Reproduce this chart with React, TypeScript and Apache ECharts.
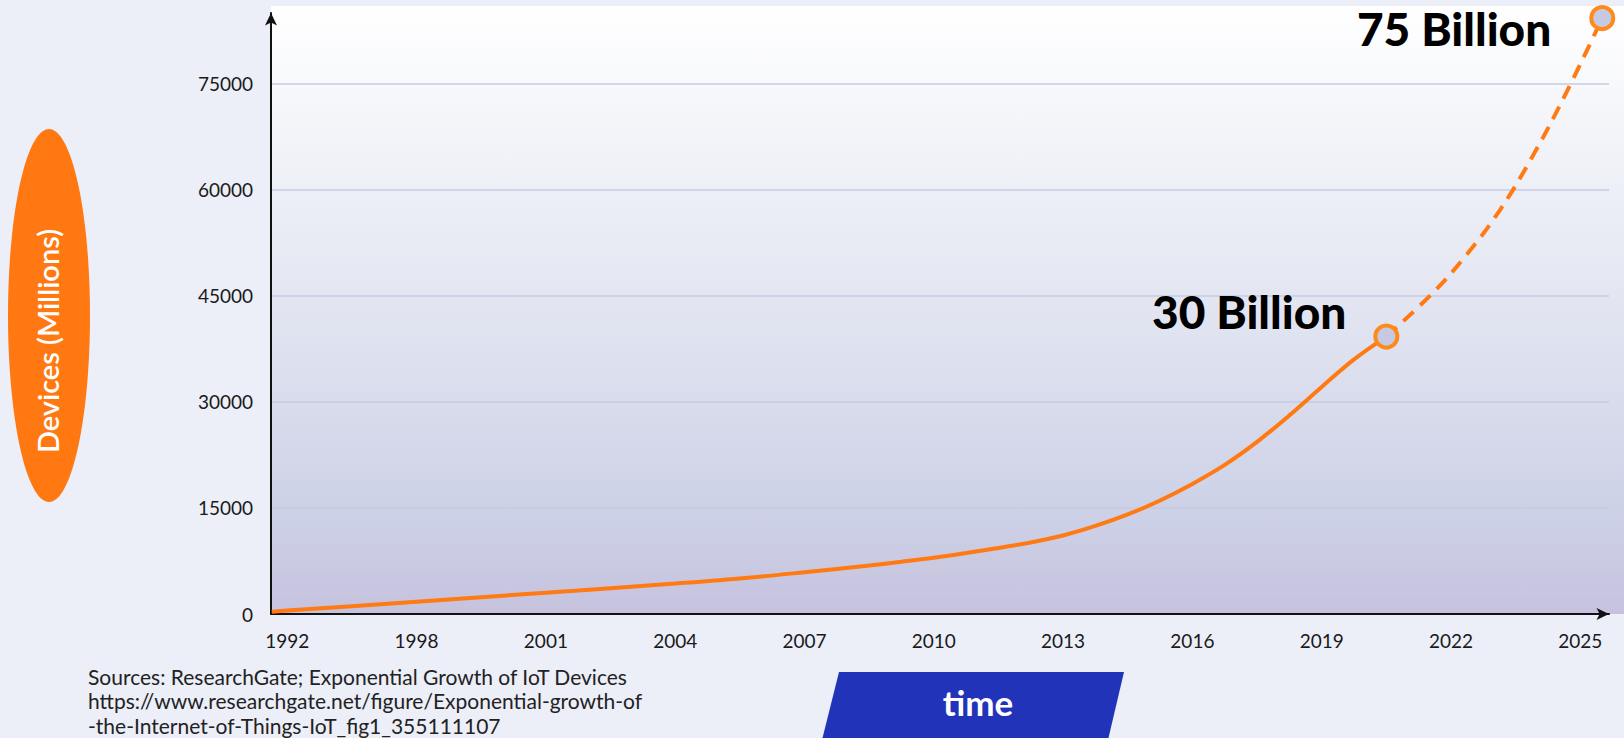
import React, { useEffect, useRef } from "react";
import * as echarts from "echarts";

// ---- data ----
const yearLabels = ["1992", "1998", "2001", "2004", "2007", "2010", "2013", "2016", "2019", "2022", "2025"];
// timeline position (0 = first year label, one step per label) / devices in millions
const actualPos = [-0.12, 0, 1, 2, 3, 3.5, 4, 4.5, 4.75, 5, 5.25, 5.5, 5.75, 6, 6.25, 6.5, 6.75, 7, 7.25, 7.5, 7.75, 8, 8.25, 8.5];
const actualVal = [325, 480, 1740, 3010, 4300, 5020, 5910, 6860, 7390, 7960, 8620, 9340, 10120, 11110, 12450, 14080, 16060, 18400, 21090, 24340, 28090, 32120, 36010, 39240];
const forecastPos = [8.5, 8.86, 9.12, 9.38, 9.63, 9.89, 10.17];
const forecastVal = [39240, 45420, 50800, 57170, 64710, 73680, 84290];
const milestoneLabels = ["30 Billion", "75 Billion"];
const milestonePos = [8.5, 10.17];
const milestoneVal = [39240, 84290];
const yAxisTitle = "Devices (Millions)";
const xAxisTitle = "time";
const sourceLines = [
  "Sources: ResearchGate; Exponential Growth of IoT Devices",
  "https://www.researchgate.net/figure/Exponential-growth-of",
  "-the-Internet-of-Things-IoT_fig1_355111107",
];

const FONT = "Lato, 'Noto Sans', sans-serif";
const ORANGE = "#ff7a12";

export default function App() {
  const ref = useRef<HTMLDivElement>(null);

  useEffect(() => {
    if (!ref.current) return;
    const chart = echarts.init(ref.current, null, { renderer: "svg" });

    const pair = (xs: number[], ys: number[]) => xs.map((x, i) => [x, ys[i]]);

    const option: any = {
      animation: false,
      backgroundColor: "#eceef8",
      grid: { left: 271, right: 15, top: 13, bottom: 124, containLabel: false },
      xAxis: {
        type: "value",
        min: -0.126,
        max: 10.222,
        axisLine: {
          show: true,
          onZero: false,
          lineStyle: { color: "#111", width: 2 },
          symbol: ["none", "arrow"],
          symbolSize: [9, 12.5],
        },
        axisTick: { show: false, customValues: yearLabels.map((_, i) => i) },
        axisLabel: {
          customValues: yearLabels.map((_, i) => i),
          formatter: (v: number) => yearLabels[Math.round(v)] ?? "",
          color: "#1a1a1a",
          fontFamily: FONT,
          fontSize: 19,
          lineHeight: 19,
          margin: 17,
        },
        splitLine: { show: false },
      },
      yAxis: {
        type: "value",
        min: 0,
        max: 85000,
        interval: 15000,
        axisLine: {
          show: true,
          onZero: false,
          lineStyle: { color: "#111", width: 2 },
          symbol: ["none", "arrow"],
          symbolSize: [9, 12.5],
        },
        axisTick: { show: false },
        axisLabel: {
          showMaxLabel: false,
          formatter: (v: number) => String(v),
          color: "#1a1a1a",
          fontFamily: FONT,
          fontSize: 19,
          margin: 18,
        },
        splitLine: {
          show: true,
          showMinLine: false,
          showMaxLine: false,
          lineStyle: { color: "#c6cbe5", width: 1.5 },
        },
      },
      graphic: [
        {
          type: "rect",
          z: -10,
          silent: true,
          shape: { x: 271, y: 6, width: 1353, height: 608 },
          style: {
            fill: new echarts.graphic.LinearGradient(0, 0, 0, 1, [
              { offset: 0, color: "#ffffff" },
              { offset: 0.5, color: "#e2e5f1" },
              { offset: 0.85, color: "#ccd0e6" },
              { offset: 1, color: "#c6c2de" },
            ]),
          },
        },
        {
          type: "ellipse",
          shape: { cx: 49, cy: 315.5, rx: 41, ry: 186.5 },
          style: { fill: "#ff7811" },
        },
        {
          type: "text",
          x: 47,
          y: 341,
          rotation: Math.PI / 2,
          style: {
            text: yAxisTitle,
            fill: "#ffffff",
            font: `600 29px ${FONT}`,
            align: "center",
            verticalAlign: "middle",
          },
        },
        {
          type: "text",
          x: 88,
          y: 664,
          style: {
            text: sourceLines.join("\n"),
            fill: "#222222",
            font: `21px ${FONT}`,
            lineHeight: 24.5,
            align: "left",
            verticalAlign: "top",
          },
        },
        {
          type: "polygon",
          shape: { points: [[839, 672], [1124, 672], [1108, 740], [822, 740]] },
          style: { fill: "#2133b8" },
        },
        {
          type: "text",
          x: 978,
          y: 702,
          style: {
            text: xAxisTitle,
            fill: "#ffffff",
            font: `700 35px ${FONT}`,
            align: "center",
            verticalAlign: "middle",
          },
        },
      ],
      series: [
        {
          type: "line",
          data: pair(actualPos, actualVal),
          smooth: 0.35,
          showSymbol: false,
          symbol: "none",
          clip: false,
          lineStyle: { color: ORANGE, width: 4 },
          z: 3,
        },
        {
          type: "line",
          data: pair(forecastPos, forecastVal),
          smooth: 0.4,
          showSymbol: false,
          symbol: "none",
          clip: false,
          lineStyle: { color: ORANGE, width: 4, type: [14, 9] },
          z: 3,
        },
        {
          type: "scatter",
          data: milestonePos.map((x, i) => ({
            value: [x, milestoneVal[i]],
            label: {
              show: true,
              formatter: milestoneLabels[i],
              position: "left",
              distance: 5,
              offset: i === 0 ? [-22, -25] : [-33, 10],
              color: "#000000",
              fontFamily: FONT,
              fontWeight: 900,
              fontSize: 46,
            },
          })),
          symbol: "circle",
          symbolSize: 22,
          clip: false,
          itemStyle: { color: "#c5cae2", borderColor: "#ff8a1c", borderWidth: 4, opacity: 1 },
          z: 5,
        },
      ],
    };

    chart.setOption(option);
    return () => chart.dispose();
  }, []);

  return (
    <div
      ref={ref}
      style={{ position: "fixed", left: 0, top: 0, width: 1624, height: 738, background: "#eceef8" }}
    />
  );
}
